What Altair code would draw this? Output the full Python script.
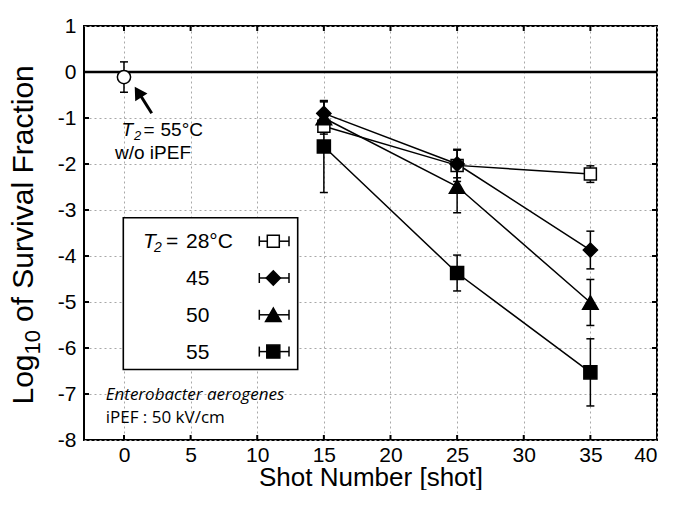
import altair as alt
import pandas as pd

# ---------------- data ----------------
shots = [15, 25, 35]
t28 = [-1.18, -2.03, -2.22]
t28_err = [0.12, 0.35, 0.18]
t45 = [-0.90, -2.00, -3.87]
t45_err = [0.27, 0.30, 0.41]
t50 = [-1.00, -2.49, -5.01]
t50_err = [0.35, 0.57, 0.50]
t55 = [-1.62, -4.37, -6.53]
t55_err = [1.00, 0.39, 0.73]

ctrl_shot = [0]
ctrl = [-0.11]
ctrl_err = [0.33]

series_keys = ["28", "45", "50", "55"]
series_labels = ["28°C", "45", "50", "55"]
x_ticks = [0, 5, 10, 15, 20, 25, 30, 35, 40]
y_ticks = [-8, -7, -6, -5, -4, -3, -2, -1, 0, 1]

# ---------------- layout / style ----------------
W, H = 573, 414
FONT = "Liberation Sans"
BLACK = "#000000"
styles = {
    "28": dict(shape="square", fill="white", size=144),
    "45": dict(shape="diamond", fill=BLACK, size=200),
    "50": dict(shape="triangle-up", fill=BLACK, size=240),
    "55": dict(shape="square", fill=BLACK, size=170),
}

vals = {"28": (t28, t28_err), "45": (t45, t45_err), "50": (t50, t50_err), "55": (t55, t55_err)}
rows = []
for k in series_keys:
    ys, es = vals[k]
    for s, y, e in zip(shots, ys, es):
        rows.append({"series": k, "x": s, "y": y, "lo": y - e, "hi": y + e})
df = pd.DataFrame(rows)
dctrl = pd.DataFrame({"x": ctrl_shot, "y": ctrl,
                      "lo": [a - b for a, b in zip(ctrl, ctrl_err)],
                      "hi": [a + b for a, b in zip(ctrl, ctrl_err)]})

xs = alt.Scale(domain=[-3, 40], nice=False, zero=False)
ys_ = alt.Scale(domain=[-8, 1], nice=False, zero=False)
grid_dash = [2, 3]
x_axis = alt.Axis(values=x_ticks, grid=True, gridDash=grid_dash, gridColor="#a8a8a8",
                  ticks=False, domain=False, labelFont=FONT, labelFontSize=21,
                  labelColor=BLACK, labelPadding=4, labelExpr="'' + datum.value",
                  title="Shot Number [shot]",
                  titleFont=FONT, titleFontSize=26, titleFontWeight="normal",
                  titleColor=BLACK, titleY=45, titleBaseline="alphabetic")
y_axis = alt.Axis(values=y_ticks, grid=True, gridDash=grid_dash, gridColor="#a8a8a8",
                  ticks=False, domain=False, labelFont=FONT, labelFontSize=21,
                  labelColor=BLACK, labelPadding=8, labelExpr="'' + datum.value", title=None)


def X(f="x"):
    return alt.X(f"{f}:Q", scale=xs, axis=x_axis)


def Y(f="y"):
    return alt.Y(f"{f}:Q", scale=ys_, axis=y_axis)


base = alt.Chart(df).mark_line(color=BLACK, strokeWidth=1.5).encode(
    x=X(), y=Y(), detail="series:N")

zero_line = alt.Chart(pd.DataFrame({"y": [0]})).mark_rule(color=BLACK, strokeWidth=2.5).encode(y=Y("y"))

# inner ticks
tick_len = 5
xt = pd.DataFrame({"x": [v for v in x_ticks if v < 40]})
yt = pd.DataFrame({"y": [v for v in y_ticks if -8 < v < 1]})
ticks_b = alt.Chart(xt).mark_rule(color=BLACK, strokeWidth=2).encode(x=X(), y=alt.value(H), y2=alt.value(H - tick_len))
ticks_t = alt.Chart(xt).mark_rule(color=BLACK, strokeWidth=2).encode(x=X(), y=alt.value(0), y2=alt.value(tick_len))
ticks_l = alt.Chart(yt).mark_rule(color=BLACK, strokeWidth=2).encode(y=Y(), x=alt.value(0), x2=alt.value(tick_len))
ticks_r = alt.Chart(yt).mark_rule(color=BLACK, strokeWidth=2).encode(y=Y(), x=alt.value(W), x2=alt.value(W - tick_len))


def errbars(d):
    r = alt.Chart(d).mark_rule(color=BLACK, strokeWidth=1.5).encode(x=X(), y=Y("lo"), y2="hi:Q")
    c1 = alt.Chart(d).mark_tick(orient="horizontal", size=8, thickness=1.5, color=BLACK, opacity=1).encode(x=X(), y=Y("lo"))
    c2 = alt.Chart(d).mark_tick(orient="horizontal", size=8, thickness=1.5, color=BLACK, opacity=1).encode(x=X(), y=Y("hi"))
    return [r, c1, c2]


layers = [base, zero_line, ticks_b, ticks_t, ticks_l, ticks_r]
layers += errbars(df) + errbars(dctrl)

for k in series_keys:
    st = styles[k]
    layers.append(
        alt.Chart(df[df.series == k]).mark_point(
            shape=st["shape"], size=st["size"], fill=st["fill"], stroke=BLACK,
            strokeWidth=1.5, opacity=1, fillOpacity=1
        ).encode(x=X(), y=Y())
    )
layers.append(
    alt.Chart(dctrl).mark_point(shape="circle", size=175, fill="white", stroke=BLACK,
                                strokeWidth=1.5, opacity=1, fillOpacity=1).encode(x=X(), y=Y())
)

one = pd.DataFrame({"a": [0]})


def txt(t, x, y, size, style="normal", align="left", font=FONT, angle=0, baseline="alphabetic"):
    return alt.Chart(one).mark_text(text=t, fontSize=size, fontStyle=style, align=align,
                                    font=font, angle=angle, baseline=baseline, color=BLACK).encode(
        x=alt.value(x), y=alt.value(y))


# annotation arrow near control point
layers.append(alt.Chart(one).mark_rule(color=BLACK, strokeWidth=3).encode(
    x=alt.value(67.7), y=alt.value(87.3), x2=alt.value(55.0), y2=alt.value(67.0)))
layers.append(alt.Chart(one).mark_point(shape="triangle-up", size=120, angle=328, filled=True,
                                        fill=BLACK, stroke=BLACK, opacity=1).encode(
    x=alt.value(54.3), y=alt.value(66.5)))
layers += [
    txt("T", 37.5, 110.2, 19, style="italic"),
    txt("2", 50.0, 113.5, 13, style="italic"),
    txt("=", 59.5, 110.2, 19),
    txt("55°C", 76.5, 110.2, 19),
    txt("w/o iPEF", 31, 132.8, 19),
]

# legend box
layers.append(alt.Chart(one).mark_rect(fill="white", stroke=BLACK, strokeWidth=1.6).encode(
    x=alt.value(39.3), x2=alt.value(213.7), y=alt.value(191.8), y2=alt.value(343.5)))
row_y = [215.2 + i * 36.8 for i in range(4)]
ld = pd.DataFrame({"series": series_keys, "label": series_labels, "ly": row_y})
sx, ex0, ex1 = 189.3, 175.3, 205.0
layers.append(alt.Chart(ld).mark_rule(color=BLACK, strokeWidth=1.5).encode(
    x=alt.value(ex0), x2=alt.value(ex1), y=alt.Y("ly:Q", scale=None)))
for cx in (ex0, ex1):
    layers.append(alt.Chart(ld).mark_tick(orient="vertical", size=10, thickness=1.5, color=BLACK, opacity=1).encode(
        x=alt.value(cx), y=alt.Y("ly:Q", scale=None)))
for k in series_keys:
    st = styles[k]
    layers.append(alt.Chart(ld[ld.series == k]).mark_point(
        shape=st["shape"], size=st["size"], fill=st["fill"], stroke=BLACK,
        strokeWidth=1.5, opacity=1, fillOpacity=1).encode(
        x=alt.value(sx), y=alt.Y("ly:Q", scale=None)))
layers.append(alt.Chart(ld).mark_text(align="left", baseline="alphabetic", fontSize=21, font=FONT,
                                      color=BLACK, dy=7).encode(
    x=alt.value(102), y=alt.Y("ly:Q", scale=None), text="label:N"))
layers += [
    txt("T", 59, row_y[0] + 7, 21, style="italic"),
    txt("2", 70, row_y[0] + 10.5, 14, style="italic"),
    txt("=", 82, row_y[0] + 7, 21),
]

# bottom-left note
layers += [
    txt("Enterobacter aerogenes", 21.7, 373.5, 17, style="italic", font="Open Sans"),
    txt("iPEF : 50 kV/cm", 21.7, 396.8, 17, font="Open Sans"),
]

# y-axis title built from pieces (subscript 10)
layers += [
    txt("Log", -51, 378.5, 30, angle=270),
    txt("10", -44, 328.5, 22, angle=270),
    txt("of Survival Fraction", -51, 296.0, 30, angle=270),
]

chart = alt.layer(*layers).properties(
    width=W, height=H,
    background="white",
    autosize=alt.AutoSizeParams(type="none"),
    padding={"left": 76, "top": 18, "right": 8, "bottom": 50},
).configure_view(stroke=BLACK, strokeWidth=2)

chart.save("out.html", embed_options={"renderer": "svg", "actions": False})
